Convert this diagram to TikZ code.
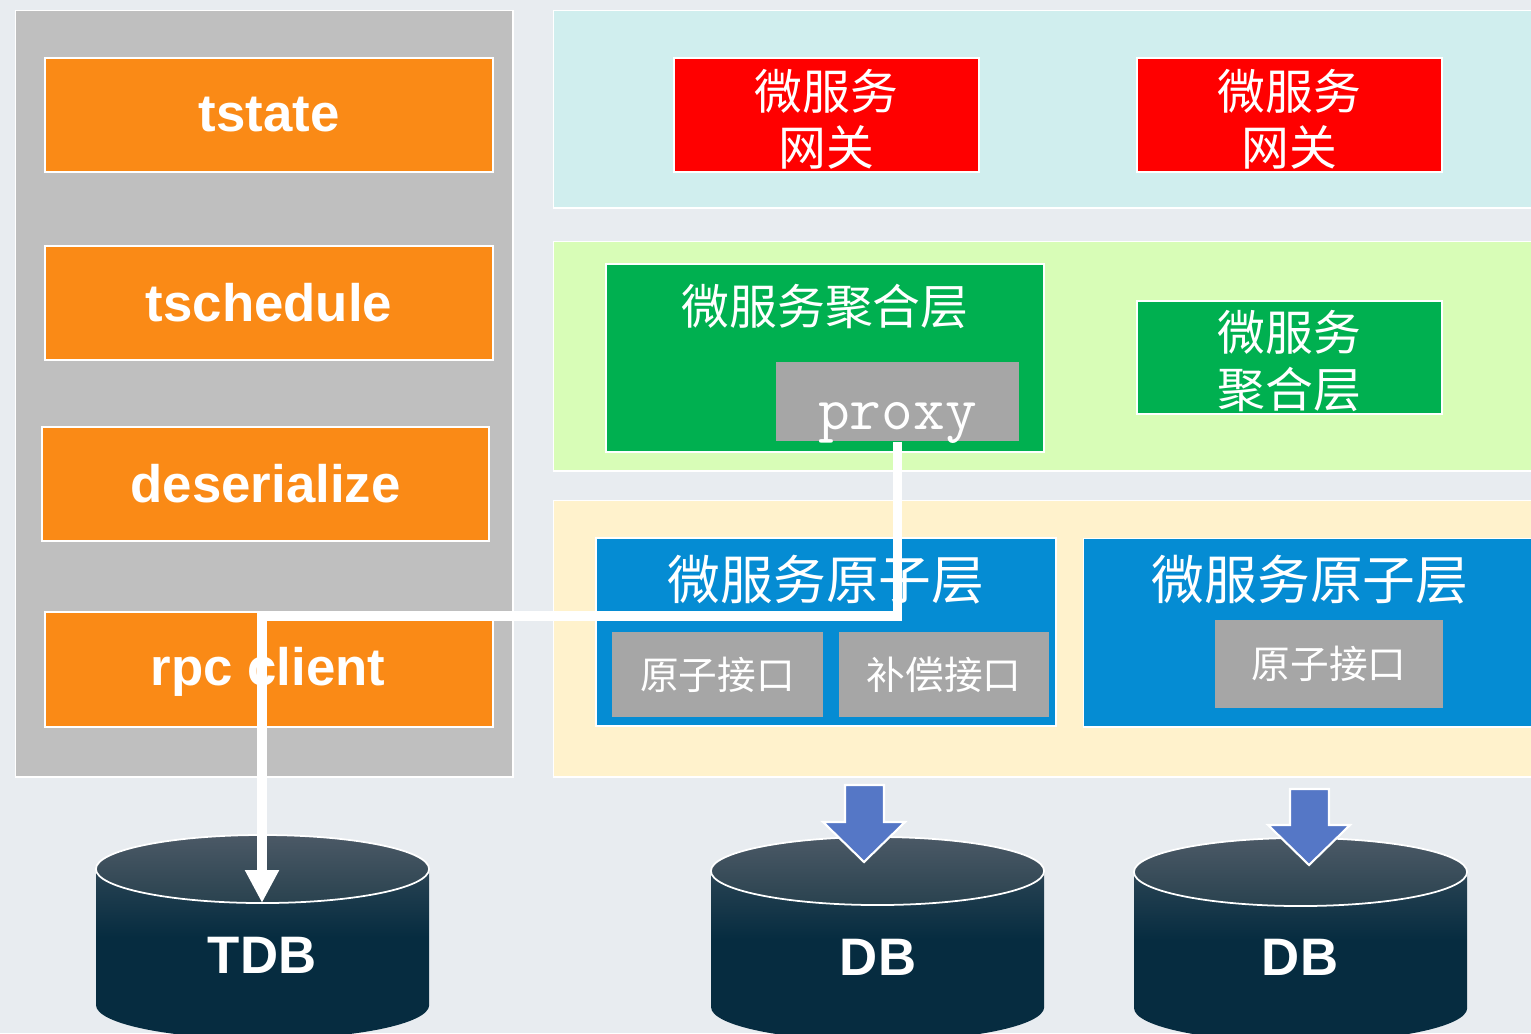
\documentclass[tikz,border=0pt]{standalone}
\usepackage{fontspec}
\newfontfamily\cjk{Noto Sans CJK SC}
\newfontfamily\arial{Liberation Sans}
\usetikzlibrary{arrows.meta}
\definecolor{bgc}{HTML}{E8ECF0}
\definecolor{panelgray}{HTML}{BFBFBF}
\definecolor{orangec}{HTML}{FA8A16}
\definecolor{cyanc}{HTML}{D0EEEE}
\definecolor{redc}{HTML}{FF0000}
\definecolor{lgreen}{HTML}{D8FDB7}
\definecolor{greenc}{HTML}{00B050}
\definecolor{boxgray}{HTML}{A6A6A6}
\definecolor{yellowc}{HTML}{FFF2CC}
\definecolor{bluec}{HTML}{058CD3}
\definecolor{arrowblue}{HTML}{5577C6}
\definecolor{cyltop}{HTML}{4B5966}
\definecolor{cylbot}{HTML}{062C40}
\definecolor{ellbot}{HTML}{29424F}
\pgfdeclareverticalshading{cylshade}{100bp}{color(0bp)=(cylbot); color(50bp)=(cylbot); color(63bp)=(cyltop!40!cylbot); color(75bp)=(cyltop); color(100bp)=(cyltop)}
\tikzset{
  panel/.style={draw=white, line width=0.4pt, inner sep=0pt, anchor=north west},
  box/.style={draw=white, line width=0.4pt, inner sep=0pt, text=white, align=center},
  orangebox/.style={box, fill=orangec, font=\arial\bfseries\fontsize{15}{18}\selectfont},
  graybox/.style={box, fill=boxgray, draw=none, font=\cjk\fontsize{11}{13}\selectfont},
  bluebox/.style={box, fill=bluec},
  title/.style={text=white, inner sep=0pt, align=center},
  blockarrow/.style={fill=arrowblue, draw=white, line width=0.6pt},
  dblabel/.style={text=white, inner sep=0pt, font=\arial\bfseries\fontsize{15}{18}\selectfont},
  wireline/.style={draw=white, line width=2.8pt},
}
\newcommand{\mycyl}[4]{% cx, cy(top), rx(cm), ry(cm)
  \shade[shading=cylshade]
    (#1-166.5,#2) -- (#1-166.5,#2+136) arc[start angle=180, end angle=360, x radius=#3, y radius=#4]
    -- (#1+166.5,#2) arc[start angle=0, end angle=180, x radius=#3, y radius=#4] -- cycle;
  \shade[top color=cyltop, bottom color=ellbot, draw=white, line width=0.5pt]
    (#1,#2) ellipse[x radius=#3, y radius=#4];
}
\begin{document}
\begin{tikzpicture}[x=0.01cm, y=-0.01cm]
\useasboundingbox (0,0) rectangle (1531,1033);
\fill[bgc] (0,0) rectangle (1531,1033);

% left panel
\node[panel, fill=panelgray, minimum width=4.97cm, minimum height=7.66cm] (left) at (15,10) {};
\node[orangebox, minimum width=4.48cm, minimum height=1.14cm] (tstate) at (269,115) {tstate};
\node[orangebox, minimum width=4.48cm, minimum height=1.14cm] (tschedule) at (269,303) {tschedule};
\node[orangebox, minimum width=4.47cm, minimum height=1.14cm] (deser) at (265.5,484) {deserialize};
\node[orangebox, minimum width=4.48cm, minimum height=1.15cm] (rpc) at (269,669.5) {};
\node[title, font=\arial\bfseries\fontsize{15}{18}\selectfont] (rpct) at (268,672) {rpc client};

% gateway layer
\node[panel, fill=cyanc, minimum width=9.92cm, minimum height=1.97cm] (gwlayer) at (553,10) {};
\node[box, fill=redc, minimum width=3.05cm, minimum height=1.14cm] (gw1) at (826.5,115) {};
\node[title, font=\cjk\fontsize{13.6}{16}\selectfont] (gw1t) at (826.5,119) {微服务\\网关};
\node[box, fill=redc, minimum width=3.05cm, minimum height=1.14cm] (gw2) at (1289.5,115) {};
\node[title, font=\cjk\fontsize{13.6}{16}\selectfont] (gw2t) at (1289.5,119) {微服务\\网关};

% aggregation layer
\node[panel, fill=lgreen, minimum width=9.92cm, minimum height=2.29cm] (agglayer) at (553,241) {};
\node[box, fill=greenc, minimum width=4.38cm, minimum height=1.88cm] (agg1) at (825,358) {};
\node[title, font=\cjk\fontsize{13.6}{16}\selectfont] (agg1t) at (825,306) {微服务聚合层};
\node[box, fill=boxgray, draw=none, minimum width=2.43cm, minimum height=0.79cm] (proxy) at (897.5,401.5) {};
\node[title, anchor=base, font=\ttfamily\fontsize{17.5}{20}\selectfont] (proxyt) at (897.5,429) {proxy};
\node[box, fill=greenc, minimum width=3.05cm, minimum height=1.13cm] (agg2) at (1289.5,357.5) {};
\node[title, font=\cjk\fontsize{13.6}{16}\selectfont] (agg2t) at (1289.5,361) {微服务\\聚合层};

% atomic layer
\node[panel, fill=yellowc, minimum width=9.92cm, minimum height=2.76cm] (atomlayer) at (553,500) {};
\node[bluebox, minimum width=4.60cm, minimum height=1.88cm] (atom1) at (826,632) {};
\node[title, font=\cjk\fontsize{15}{18}\selectfont] (atom1t) at (826,580) {微服务原子层};
\node[graybox, minimum width=2.11cm, minimum height=0.85cm] (ifa) at (717.5,674.5) {原子接口};
\node[graybox, minimum width=2.10cm, minimum height=0.85cm] (ifb) at (944,674.5) {补偿接口};
\node[bluebox, anchor=north west, minimum width=4.62cm, minimum height=1.88cm] (atom2) at (1083,538) {};
\node[title, font=\cjk\fontsize{15}{18}\selectfont] (atom2t) at (1310,580) {微服务原子层};
\node[graybox, minimum width=2.28cm, minimum height=0.88cm] (ifc) at (1329,664) {原子接口};

% databases
\mycyl{262.5}{869}{1.665cm}{0.34cm}
\mycyl{877.5}{871}{1.665cm}{0.34cm}
\mycyl{1300.5}{872}{1.665cm}{0.34cm}
\node[dblabel] (tdb) at (262,955) {TDB};
\node[dblabel] (db1) at (878,957) {DB};
\node[dblabel] (db2) at (1300,957) {DB};
\coordinate (tdbtop) at (262,903);
\coordinate (bend) at (262,616);

% block arrows
\draw[blockarrow] (845,785) -- (884,785) -- (884,822) -- (905,822) -- (864,862) -- (823,822) -- (845,822) -- cycle;
\draw[blockarrow] (1290,789) -- (1329,789) -- (1329,825) -- (1350,825) -- (1309,865) -- (1268,825) -- (1290,825) -- cycle;

% white connector proxy -> TDB
\draw[wireline, -{Triangle[width=0.32cm, length=0.33cm]}] (proxy.south) |- (bend) -- (tdbtop);
\end{tikzpicture}
\end{document}
